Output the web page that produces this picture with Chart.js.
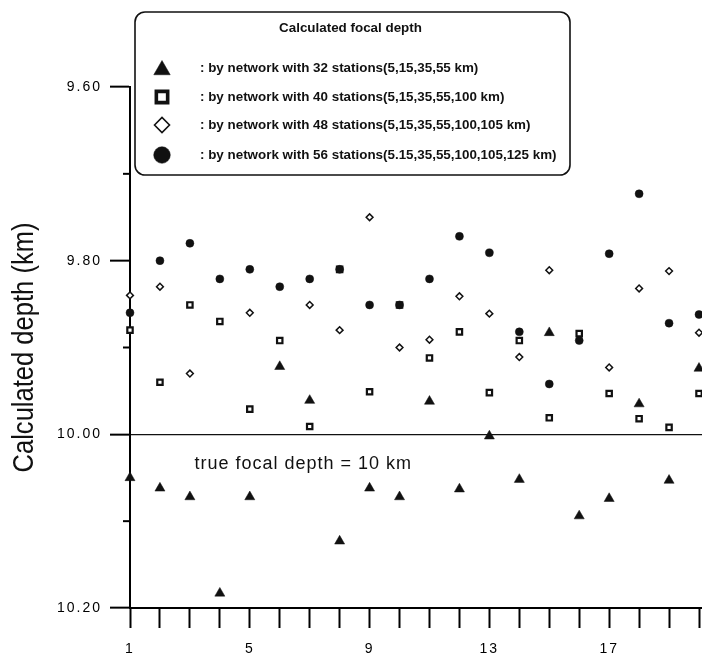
<!DOCTYPE html>
<html><head><meta charset="utf-8">
<script src="https://cdn.jsdelivr.net/npm/chart.js@4.4.1/dist/chart.umd.min.js"></script>
<style>html,body{margin:0;padding:0;background:#fff;}#wrap{width:702px;height:658px;position:relative;}</style>
</head><body><div id="wrap"><canvas id="c" width="702" height="658"></canvas></div>
<script>
// ---- data ----
const events = [1,2,3,4,5,6,7,8,9,10,11,12,13,14,15,16,17,18,19,20];
const depth32 = [10.050,10.062,10.072,10.183,10.072,9.922,9.961,10.123,10.062,10.072,9.962,10.063,10.002,10.052,9.883,10.094,10.074,9.965,10.053,9.924];
const depth40 = [9.880,9.940,9.851,9.870,9.971,9.892,9.991,9.810,9.951,9.851,9.912,9.882,9.952,9.892,9.981,9.884,9.953,9.982,9.992,9.953];
const depth48 = [9.840,9.830,9.930,null,9.860,null,9.851,9.880,9.750,9.900,9.891,9.841,9.861,9.911,9.811,null,9.923,9.832,9.812,9.883];
const depth56 = [9.860,9.800,9.780,9.821,9.810,9.830,9.821,9.810,9.851,9.851,9.821,9.772,9.791,9.882,9.942,9.892,9.792,9.723,9.872,9.862];
const xTickValues = [1,2,3,4,5,6,7,8,9,10,11,12,13,14,15,16,17,18,19,20];
const xLabelValues = [1,5,9,13,17];
const yTickValues = [9.6,9.7,9.8,9.9,10.0,10.1,10.2];
const yLabelValues = [9.6,9.8,10.0,10.2];
const trueDepth = 10;
const seriesLabels = [
  ': by network with 32 stations(5,15,35,55 km)',
  ': by network with 40 stations(5,15,35,55,100 km)',
  ': by network with 48 stations(5,15,35,55,100,105 km)',
  ': by network with 56 stations(5.15,35,55,100,105,125 km)'
];
const legendTitle = 'Calculated focal depth';
const yTitle = 'Calculated depth (km)';
const refLabel = 'true focal depth = 10 km';

// ---- styles ----
const INK = '#111';
const styles = [
  {pointStyle:'triangle', radius:5.8, bg:INK, border:INK, bw:0.5, legendR:9.5, legendBw:0.5},
  {pointStyle:'rect', radius:3.8, bg:'#fff', border:INK, bw:2.2, legendR:8, legendBw:3.6},
  {pointStyle:'rectRot', radius:3.4, bg:'#fff', border:INK, bw:1.5, legendR:7.5, legendBw:1.6},
  {pointStyle:'circle', radius:4, bg:INK, border:INK, bw:0.5, legendR:8.3, legendBw:0.5}
];
const seriesValues = [depth32, depth40, depth48, depth56];
const isMajor = v => yLabelValues.some(m => Math.abs(m - v) < 1e-9);

const datasets = seriesValues.map((vals, i) => ({
  label: seriesLabels[i],
  data: events.map((e, j) => ({x: e, y: vals[j]})),
  pointStyle: styles[i].pointStyle,
  pointRadius: styles[i].radius,
  pointBackgroundColor: styles[i].bg,
  pointBorderColor: styles[i].border,
  pointBorderWidth: styles[i].bw,
  showLine: false,
  clip: false,
  order: i === 3 ? 0 : (i === 0 ? 1 : (i === 2 ? 2 : 3))
}));

function drawMarker(ctx, st, x, y, r, bw) {
  ctx.save();
  ctx.fillStyle = st.bg; ctx.strokeStyle = st.border; ctx.lineWidth = bw;
  Chart.helpers.drawPoint(ctx, {pointStyle: st.pointStyle, radius: r, rotation: 0, borderWidth: bw}, x, y);
  ctx.restore();
}

const decor = {
  id: 'decor',
  beforeDraw(chart) { chart.ctx.letterSpacing = '2px'; },
  afterDraw(chart) {
    const ctx = chart.ctx, xs = chart.scales.x, ys = chart.scales.y, ca = chart.chartArea;
    ctx.save();
    ctx.letterSpacing = '0px';
    // minor y ticks
    ctx.strokeStyle = '#000'; ctx.lineWidth = 2;
    yTickValues.forEach(v => {
      if (isMajor(v)) return;
      const py = ys.getPixelForValue(v);
      ctx.beginPath(); ctx.moveTo(ca.left - 7, py); ctx.lineTo(ca.left, py); ctx.stroke();
    });
    // reference label
    ctx.fillStyle = INK;
    ctx.font = '18px "Liberation Sans", Arial, sans-serif';
    ctx.letterSpacing = '1px';
    ctx.textAlign = 'left'; ctx.textBaseline = 'middle';
    ctx.fillText(refLabel, xs.getPixelForValue(3.15), ys.getPixelForValue(trueDepth + 0.034));
    ctx.letterSpacing = '0px';
    // y title
    ctx.save();
    ctx.font = '29px "Liberation Sans", Arial, sans-serif';
    const w = ctx.measureText(yTitle).width;
    ctx.translate(33, (ca.top + ca.bottom) / 2);
    ctx.rotate(-Math.PI / 2);
    ctx.scale(250 / w, 1);
    ctx.textAlign = 'center'; ctx.textBaseline = 'alphabetic';
    ctx.fillText(yTitle, 0, 0);
    ctx.restore();
    // legend box
    const bx = 135, by = 12, bw = 435, bh = 163;
    ctx.beginPath();
    ctx.roundRect(bx, by, bw, bh, 10);
    ctx.fillStyle = '#fff'; ctx.fill();
    ctx.strokeStyle = INK; ctx.lineWidth = 1.6; ctx.stroke();
    ctx.fillStyle = INK;
    ctx.font = 'bold 13.4px "Liberation Sans", Arial, sans-serif';
    ctx.textAlign = 'center'; ctx.textBaseline = 'middle';
    ctx.fillText(legendTitle, bx + bw / 2 - 2, 28);
    const rows = [68, 97, 125, 155];
    ctx.textAlign = 'left';
    seriesLabels.forEach((t, i) => {
      const st = styles[i];
      drawMarker(ctx, st, 162, rows[i] + (st.pointStyle === 'triangle' ? 2 : 0), st.legendR, st.legendBw);
      ctx.fillStyle = INK;
      ctx.fillText(t, 200, rows[i]);
    });
    ctx.restore();
  }
};

new Chart(document.getElementById('c'), {
  type: 'scatter',
  data: { datasets },
  options: {
    responsive: false,
    animation: false,
    layout: { autoPadding: false, padding: { top: 87, right: 0, left: 0, bottom: 0 } },
    plugins: { legend: { display: false }, tooltip: { enabled: false } },
    scales: {
      x: {
        type: 'linear', min: 1, max: 20.1,
        afterBuildTicks: s => { s.ticks = xTickValues.map(v => ({value: v})); },
        afterFit: s => { s.height = 50; s.paddingLeft = 0; s.paddingRight = 0; },
        grid: { display: true, drawOnChartArea: false, drawTicks: true, tickLength: 20, tickWidth: 2, tickColor: '#000' },
        border: { display: true, width: 2, color: '#000' },
        ticks: {
          autoSkip: false, maxRotation: 0, padding: 13, color: '#000',
          font: { family: '"Liberation Sans", Arial, sans-serif', size: 14 },
          callback: v => xLabelValues.includes(v) ? String(v) : ''
        }
      },
      y: {
        type: 'linear', reverse: true, min: 9.6, max: 10.2,
        afterBuildTicks: s => { s.ticks = yTickValues.map(v => ({value: v})); },
        afterFit: s => { s.width = 130; s.paddingTop = 0; s.paddingBottom = 0; },
        grid: {
          display: true, drawOnChartArea: true, drawTicks: true, tickLength: 20, tickWidth: 2,
          tickColor: c => (c.tick && isMajor(c.tick.value)) ? '#000' : 'rgba(0,0,0,0)',
          color: c => (c.tick && Math.abs(c.tick.value - trueDepth) < 1e-9) ? '#111' : 'rgba(0,0,0,0)',
          lineWidth: 1.3
        },
        border: { display: true, width: 2, color: '#000' },
        ticks: {
          autoSkip: false, padding: 8, color: '#000',
          font: { family: '"Liberation Sans", Arial, sans-serif', size: 14 },
          callback: v => isMajor(v) ? v.toFixed(2) : ''
        }
      }
    }
  },
  plugins: [decor]
});
</script></body></html>
